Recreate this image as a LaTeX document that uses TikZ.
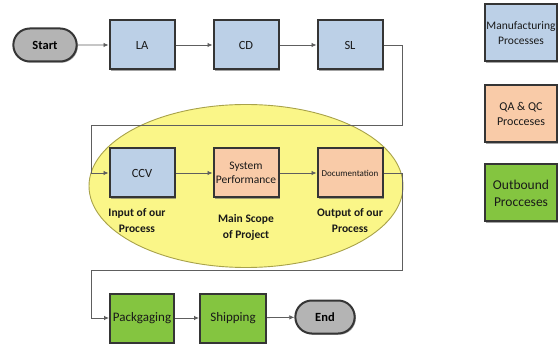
\documentclass[tikz,border=0pt]{standalone}
\usepackage{fontspec}
\setmainfont{Carlito}
\usetikzlibrary{shadows,arrows.meta,shapes.misc,shapes.geometric}

\definecolor{mfgblue}{HTML}{BCD0E7}
\definecolor{qaorange}{HTML}{F9CBA8}
\definecolor{outgreen}{HTML}{84C540}
\definecolor{pillgray}{HTML}{B4B4B4}
\definecolor{scopeyellow}{HTML}{FAF688}
\definecolor{scopeedge}{HTML}{A8A24A}
\definecolor{boxedge}{HTML}{353535}
\definecolor{wire}{HTML}{5E5E5E}

\tikzset{
  procbox/.style={rectangle, draw=boxedge, line width=2pt, minimum width=65pt,
    minimum height=49pt, inner sep=1pt, align=center, text=black!90,
    font=\fontsize{12.5}{14}\selectfont,
    drop shadow={shadow xshift=1.2pt, shadow yshift=-1.2pt, fill=black!60, opacity=0.6}},
  mfgbox/.style={procbox, fill=mfgblue},
  qabox/.style={procbox, fill=qaorange},
  outbox/.style={procbox, fill=outgreen},
  pill/.style={rounded rectangle, draw=boxedge, line width=2pt, fill=pillgray,
    minimum width=70pt, minimum height=33pt, font=\bfseries\fontsize{12.5}{14}\selectfont,
    drop shadow={shadow xshift=1.2pt, shadow yshift=-1.2pt, fill=black!60, opacity=0.6}},
  note/.style={align=center, font=\bfseries\fontsize{11.5}{16}\selectfont, text=black!90},
  flow/.style={draw=wire, line width=0.8pt, -{Latex[length=5pt,width=4.5pt]}},
}

\begin{document}
\begin{tikzpicture}[x=1pt,y=-1pt]
     \useasboundingbox (0,0) rectangle (559,347);

     % project scope
     \node[ellipse, draw=scopeedge, line width=0.9pt, fill=scopeyellow,
           minimum width=314pt, minimum height=163pt] (scope) at (246,186){};

     \node[pill] (start) at (45,45){Start};
     \node[mfgbox] (LA) at (142,45){LA};
     \node[mfgbox] (CD) at (246,45){CD};
     \node[mfgbox] (SL) at (350,45){SL};

     \node[mfgbox] (CCV) at (142,173){CCV};
     \node[qabox, font=\fontsize{11.5}{14}\selectfont] (SP) at (246,173){System\\Performance};
     \node[qabox, font=\fontsize{9}{11}\selectfont] (DOC) at (350,173){Documentation};

     \node[note] (inp) at (137,221){Input of our\\Process};
     \node[note] (main) at (246,227){Main Scope\\of Project};
     \node[note] (outp) at (350,221){Output of our\\Process};

     \node[outbox, minimum width=64pt, font=\fontsize{13}{14}\selectfont] (PK) at (142,318){Packgaging};
     \node[outbox, minimum width=66pt, font=\fontsize{13}{14}\selectfont] (SH) at (233,318){Shipping};
     \node[pill, minimum width=66pt] (end) at (325,317){End};

     % legend
     \node[mfgbox, minimum width=72pt, minimum height=57pt, font=\fontsize{11.5}{15}\selectfont] (leg1) at (521,33){Manufacturing\\Processes};
     \node[qabox, minimum width=72pt, minimum height=57pt, font=\fontsize{12}{15}\selectfont] (leg2) at (521,114){QA \& QC\\Procceses};
     \node[outbox, minimum width=72pt, minimum height=57pt, font=\fontsize{13.5}{17}\selectfont] (leg3) at (521,193){Outbound\\Procceses};

     % wrap points
     \coordinate (r1) at (402,45);
     \coordinate (r2) at (402,125);
     \coordinate (l1) at (91,125);
     \coordinate (l2) at (91,173);
     \coordinate (r3) at (402,173);
     \coordinate (r4) at (402,270);
     \coordinate (l3) at (91,270);
     \coordinate (l4) at (91,318);

     \draw [flow] (start) to (LA);
     \draw [flow] (LA) to (CD);
     \draw [flow] (CD) to (SL);
     \draw [flow] (SL.east) -- (r1) -- (r2) -- (l1) -- (l2) -- (CCV.west);

     \draw [flow] (CCV) to (SP);
     \draw [flow] (SP) to (DOC);
     \draw [flow] (DOC.east) -- (r3) -- (r4) -- (l3) -- (l4) -- (PK.west);

     \draw [flow] (PK) to (SH);
     \draw [flow] (SH) to (end);

\end{tikzpicture}
\end{document}
